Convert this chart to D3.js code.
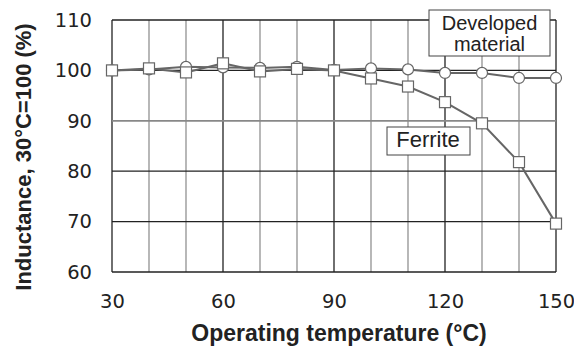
<!DOCTYPE html>
<html>
<head>
<meta charset="utf-8">
<script src="https://cdn.jsdelivr.net/npm/d3@7"></script>
<style>
  body { margin: 0; background: #fff; }
  text { font-family: Arial, "Liberation Sans", sans-serif; fill: #222; }
</style>
</head>
<body>
<div id="chart"></div>
<script>
// Temperatures (°C)
const temps = [30, 40, 50, 60, 70, 80, 90, 100, 110, 120, 130, 140, 150];
// Inductance, 30°C = 100 (%)
const developed = [100, 100.2, 100.7, 100.6, 100.5, 100.7, 100.1, 100.4, 100.2, 99.5, 99.5, 98.5, 98.5];
const ferrite = [100, 100.4, 99.6, 101.4, 99.8, 100.3, 100.0, 98.4, 96.8, 93.7, 89.5, 81.8, 69.6];
const xTicks = [30, 60, 90, 120, 150];
const yTicks = [60, 70, 80, 90, 100, 110];

const width = 574, height = 347;
const margin = { top: 20, right: 18, bottom: 75, left: 112 };
const innerW = width - margin.left - margin.right;
const innerH = height - margin.top - margin.bottom;

const tickFont = "'DejaVu Sans', Verdana, sans-serif";

const svg = d3.select("#chart").append("svg")
  .attr("width", width)
  .attr("height", height);

const g = svg.append("g")
  .attr("transform", `translate(${margin.left},${margin.top})`);

const x = d3.scaleLinear().domain([30, 150]).range([0, innerW]);
const y = d3.scaleLinear().domain([60, 110]).range([innerH, 0]);

// Vertical grid: light every 10, dark every 30
g.selectAll("line.vgrid")
  .data(d3.range(30, 151, 10))
  .enter().append("line")
  .attr("x1", d => x(d)).attr("x2", d => x(d))
  .attr("y1", 0).attr("y2", innerH)
  .attr("stroke", d => (d - 30) % 30 === 0 ? "#222" : "#888")
  .attr("stroke-width", d => (d - 30) % 30 === 0 ? 1.3 : 1.2);

// Horizontal grid
g.selectAll("line.hgrid")
  .data(yTicks)
  .enter().append("line")
  .attr("x1", 0).attr("x2", innerW)
  .attr("y1", d => y(d)).attr("y2", d => y(d))
  .attr("stroke", d => d === 90 ? "#888" : "#222")
  .attr("stroke-width", d => d === 90 ? 1.8 : 1.3);

// Tick labels
const xAxis = g.append("g")
  .attr("transform", `translate(0,${innerH})`)
  .call(d3.axisBottom(x).tickValues(xTicks).tickSize(0).tickPadding(22));
xAxis.select(".domain").remove();
xAxis.selectAll("text")
  .style("font-size", "19.5px")
  .style("font-family", tickFont)
  .attr("fill", "#222");

const yAxis = g.append("g")
  .call(d3.axisLeft(y).tickValues(yTicks).tickSize(0).tickPadding(20));
yAxis.select(".domain").remove();
yAxis.selectAll("text")
  .style("font-size", "19.5px")
  .style("font-family", tickFont)
  .attr("fill", "#222");

// Lines
const line = d3.line()
  .x((d, i) => x(temps[i]))
  .y(d => y(d));

[developed, ferrite].forEach(series => {
  g.append("path")
    .datum(series)
    .attr("d", line)
    .attr("fill", "none")
    .attr("stroke", "#666")
    .attr("stroke-width", 2);
});

// Markers
g.selectAll("circle.dev")
  .data(developed)
  .enter().append("circle")
  .attr("cx", (d, i) => x(temps[i]))
  .attr("cy", d => y(d))
  .attr("r", 5.5)
  .attr("fill", "#fff")
  .attr("stroke", "#666")
  .attr("stroke-width", 1.2);

g.selectAll("rect.fer")
  .data(ferrite)
  .enter().append("rect")
  .attr("x", (d, i) => x(temps[i]) - 5.5)
  .attr("y", d => y(d) - 5.5)
  .attr("width", 11)
  .attr("height", 11)
  .attr("fill", "#fff")
  .attr("stroke", "#666")
  .attr("stroke-width", 1.2);

// Series labels
svg.append("rect")
  .attr("x", 429).attr("y", 10).attr("width", 121).attr("height", 46)
  .attr("fill", "#fff").attr("stroke", "#444").attr("stroke-width", 1);
svg.append("text")
  .attr("x", 489.5).attr("y", 30)
  .attr("text-anchor", "middle")
  .style("font-size", "20px")
  .text("Developed");
svg.append("text")
  .attr("x", 489.5).attr("y", 51)
  .attr("text-anchor", "middle")
  .style("font-size", "20px")
  .text("material");

svg.append("rect")
  .attr("x", 387).attr("y", 127).attr("width", 83).attr("height", 28)
  .attr("fill", "#fff").attr("stroke", "#444").attr("stroke-width", 1);
svg.append("text")
  .attr("x", 428).attr("y", 147)
  .attr("text-anchor", "middle")
  .style("font-size", "22px")
  .text("Ferrite");

// Axis titles
svg.append("text")
  .attr("x", 339)
  .attr("y", 341)
  .attr("text-anchor", "middle")
  .style("font-size", "23px")
  .style("font-weight", "bold")
  .text("Operating temperature (°C)");

svg.append("text")
  .attr("transform", `translate(31,157) rotate(-90)`)
  .attr("text-anchor", "middle")
  .style("font-size", "22px")
  .style("font-weight", "bold")
  .text("Inductance, 30°C=100 (%)");
</script>
</body>
</html>
